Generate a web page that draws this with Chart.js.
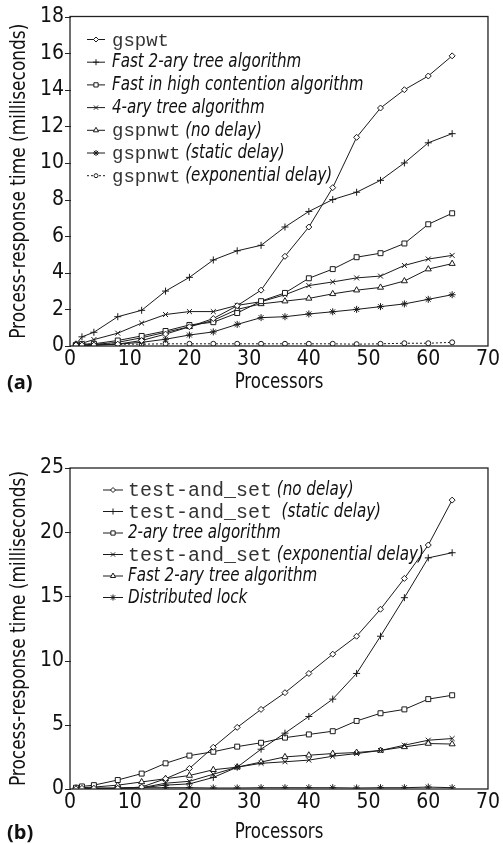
<!DOCTYPE html>
<html><head><meta charset="utf-8">
<script src="https://cdn.jsdelivr.net/npm/chart.js@4/dist/chart.umd.min.js"></script>
<style>
html,body{margin:0;padding:0;background:#fff;width:503px;height:844px;overflow:hidden;}
.wrap{position:absolute;left:0;width:503px;}
#w1{top:0;height:400px;}
#w2{top:440px;height:404px;}
.lab{position:absolute;left:7px;font:bold 20px 'Open Sans','DejaVu Sans',sans-serif;color:#111;line-height:24px;}
</style></head><body>
<div class="wrap" id="w1"><canvas id="c1"></canvas></div>
<div class="wrap" id="w2"><canvas id="c2"></canvas></div>
<div class="lab" style="top:370px">(a)</div>
<div class="lab" style="top:820px">(b)</div>
<script>
// ---------- data ----------
const processors = [1,2,4,8,12,16,20,24,28,32,36,40,44,48,52,56,60,64];
const xTicks = [0,10,20,30,40,50,60,70];
const yTicksA = [0,2,4,6,8,10,12,14,16,18];
const yTicksB = [0,5,10,15,20,25];
const xTitle = 'Processors';
const yTitle = 'Process-response time (milliseconds)';

// chart (a)
const labelsA = ['gspwt','Fast 2-ary tree algorithm','Fast in high contention algorithm','4-ary tree algorithm','gspnwt (no delay)','gspnwt (static delay)','gspnwt (exponential delay)'];
const a_gspwt        = [0.05,0.05,0.05,0.1,0.3,0.65,1.05,1.5,2.2,3.05,4.9,6.5,8.65,11.4,13.0,14.0,14.75,15.85];
const a_fast2ary     = [0.1,0.5,0.75,1.6,1.95,3.0,3.75,4.7,5.2,5.5,6.5,7.35,8.0,8.4,9.05,10.0,11.1,11.6];
const a_highCont     = [0.05,0.1,0.12,0.3,0.55,0.82,1.15,1.3,1.8,2.45,2.9,3.7,4.2,4.85,5.07,5.6,6.65,7.25];
const a_fourAry      = [0.05,0.15,0.35,0.7,1.25,1.72,1.88,1.88,2.22,2.42,2.8,3.3,3.5,3.72,3.82,4.4,4.75,4.95];
const a_gspnwtNo     = [0.05,0.05,0.08,0.2,0.45,0.75,1.05,1.4,2.0,2.3,2.45,2.6,2.85,3.05,3.2,3.55,4.2,4.5];
const a_gspnwtStatic = [0.02,0.02,0.05,0.1,0.2,0.37,0.6,0.77,1.18,1.55,1.6,1.75,1.87,2.0,2.15,2.3,2.55,2.8];
const a_gspnwtExp    = [0.1,0.1,0.1,0.1,0.1,0.12,0.12,0.12,0.12,0.12,0.12,0.12,0.12,0.1,0.12,0.15,0.15,0.2];

// chart (b)
const labelsB = ['test-and_set (no delay)','test-and_set  (static delay)','2-ary tree algorithm','test-and_set (exponential delay)','Fast 2-ary tree algorithm','Distributed lock'];
const b_tasNo     = [0.02,0.05,0.05,0.05,0.15,0.8,1.6,3.25,4.8,6.2,7.5,9.0,10.5,11.9,14.0,16.4,19.0,22.5];
const b_tasStatic = [0,0,0.02,0.05,0.1,0.3,0.4,0.9,1.7,3.1,4.35,5.65,7.0,9.0,11.9,14.9,18.0,18.4];
const b_twoAry    = [0.1,0.2,0.3,0.7,1.2,2.0,2.6,2.9,3.3,3.6,4.0,4.25,4.5,5.3,5.9,6.2,7.0,7.3];
const b_tasExp    = [0,0,0.02,0.05,0.1,0.45,0.6,1.15,1.7,2.0,2.12,2.25,2.55,2.76,3.0,3.41,3.8,3.93];
const b_fast2ary  = [0.02,0.1,0.15,0.3,0.55,0.8,1.05,1.5,1.7,2.1,2.5,2.63,2.76,2.84,3.0,3.28,3.54,3.5];
const b_distLock  = [0.08,0.08,0.08,0.08,0.1,0.1,0.1,0.08,0.08,0.1,0.1,0.1,0.1,0.08,0.1,0.1,0.15,0.1];

// ---------- styling ----------
const NARROW = "'Liberation Sans Narrow','DejaVu Sans Condensed','Liberation Sans',sans-serif";
const MONO = "'Liberation Mono','DejaVu Sans Mono',monospace";
const INK = '#1a1a1a';
const monoWords = ['test-and_set','gspnwt','gspwt'];

function series(label, ys, style, radius, dash) {
  return {
    label, data: processors.map((x, i) => ({x, y: ys[i]})),
    borderColor: INK, backgroundColor: '#fff', borderWidth: 1,
    pointStyle: style, pointRadius: radius, pointBorderWidth: 1,
    pointBorderColor: INK, pointBackgroundColor: '#fff',
    borderDash: dash || [], tension: 0, fill: false
  };
}

const frame = {
  id: 'frame',
  afterDraw(chart, args, opts) {
    const {ctx, chartArea: a} = chart;
    ctx.save();
    ctx.strokeStyle = '#222'; ctx.lineWidth = 1.3;
    ctx.strokeRect(a.left, a.top, a.right - a.left, a.bottom - a.top);
    ctx.lineWidth = 1;
    const ys = chart.scales.y;
    opts.yticks.forEach(v => {
      const p = Math.round(ys.getPixelForValue(v)) + 0.5;
      ctx.beginPath(); ctx.moveTo(a.left - 5, p); ctx.lineTo(a.left + 1, p); ctx.stroke();
    });
    // axis titles (condensed)
    ctx.fillStyle = '#111';
    ctx.font = `21px ${NARROW}`;
    ctx.textAlign = 'center'; ctx.textBaseline = 'middle';
    ctx.save();
    ctx.translate((a.left + a.right) / 2, opts.xTitleY);
    ctx.scale(0.88, 1);
    ctx.fillText(xTitle, 0, 0);
    ctx.restore();
    ctx.save();
    ctx.translate(20, (a.top + a.bottom) / 2);
    ctx.rotate(-Math.PI / 2);
    ctx.scale(0.9, 1);
    ctx.fillText(yTitle, 0, 0);
    ctx.restore();
    ctx.restore();
  }
};

const mixedLegend = {
  id: 'mixedLegend',
  afterDraw(chart, args, o) {
    const ctx = chart.ctx;
    ctx.save();
    chart.data.datasets.forEach((ds, i) => {
      const y = o.y0 + o.dy * i;
      ctx.strokeStyle = INK; ctx.lineWidth = 1;
      ctx.setLineDash(ds.borderDash || []);
      ctx.beginPath(); ctx.moveTo(o.x0, y); ctx.lineTo(o.x1, y); ctx.stroke();
      ctx.setLineDash([]);
      ctx.fillStyle = '#fff'; ctx.strokeStyle = INK;
      Chart.helpers.drawPoint(ctx, {pointStyle: ds.pointStyle, radius: ds.pointRadius - 0.5, borderWidth: 1, rotation: 0}, (o.x0 + o.x1) / 2, y);
      let x = o.tx;
      let rest = ds.label;
      ctx.textBaseline = 'middle'; ctx.textAlign = 'left';
      const mw = monoWords.find(w => rest.startsWith(w));
      if (mw) {
        ctx.font = `${o.mono}px ${MONO}`;
        ctx.fillStyle = '#333';
        ctx.fillText(mw, x, y + 1);
        x += ctx.measureText(mw).width;
        rest = rest.slice(mw.length);
      }
      if (rest.length) {
        ctx.fillStyle = '#111';
        ctx.font = `italic 20px ${NARROW}`;
        ctx.save();
        ctx.translate(x, y);
        ctx.scale(0.84, 1);
        ctx.fillText(rest, 0, 0);
        ctx.restore();
      }
    });
    ctx.restore();
  }
};

function makeChart(id, datasets, yMax, yticks, padTop, xHeight, legendOpts, xTitleY) {
  return new Chart(document.getElementById(id), {
    type: 'line',
    data: {datasets},
    options: {
      animation: false, responsive: true, maintainAspectRatio: false,
      layout: {padding: {left: 0, top: padTop, right: 12, bottom: 0}},
      plugins: {legend: {display: false}, tooltip: {enabled: false},
        frame: {yticks, xTitleY}, mixedLegend: legendOpts},
      scales: {
        x: {type: 'linear', min: 0, max: 70,
          afterFit: s => { s.height = xHeight; },
          afterBuildTicks: s => { s.ticks = xTicks.map(v => ({value: v})); },
          grid: {display: false, drawTicks: false}, border: {display: false},
          ticks: {color: '#111', padding: 3, font: {family: NARROW, size: 21, lineHeight: 1}}
        },
        y: {min: 0, max: yMax,
          afterFit: s => { s.width = 70; },
          afterBuildTicks: s => { s.ticks = yticks.map(v => ({value: v})); },
          grid: {display: false, drawTicks: false}, border: {display: false},
          ticks: {color: '#111', padding: 6, font: {family: NARROW, size: 21, lineHeight: 1}}
        }
      }
    },
    plugins: [frame, mixedLegend]
  });
}

const dsA = [
  series(labelsA[0], a_gspwt, 'rectRot', 3),
  series(labelsA[1], a_fast2ary, 'cross', 3.5),
  series(labelsA[2], a_highCont, 'rect', 3.5),
  series(labelsA[3], a_fourAry, 'crossRot', 3.5),
  series(labelsA[4], a_gspnwtNo, 'triangle', 3.5),
  series(labelsA[5], a_gspnwtStatic, 'star', 3.5),
  series(labelsA[6], a_gspnwtExp, 'circle', 2.5, [2, 2])
];
const dsB = [
  series(labelsB[0], b_tasNo, 'rectRot', 3),
  series(labelsB[1], b_tasStatic, 'cross', 3.5),
  series(labelsB[2], b_twoAry, 'rect', 3.5),
  series(labelsB[3], b_tasExp, 'crossRot', 3.5),
  series(labelsB[4], b_fast2ary, 'triangle', 3.5),
  series(labelsB[5], b_distLock, 'star', 3.5)
];

makeChart('c1', dsA, 18, yTicksA, 16, 54, {x0: 87, x1: 105, tx: 112, y0: 39.5, dy: 22.7, mono: 19}, 383);
makeChart('c2', dsB, 25, yTicksB, 28, 55, {x0: 103, x1: 123, tx: 128, y0: 50, dy: 21.5, mono: 20}, 393);
</script>
</body></html>
